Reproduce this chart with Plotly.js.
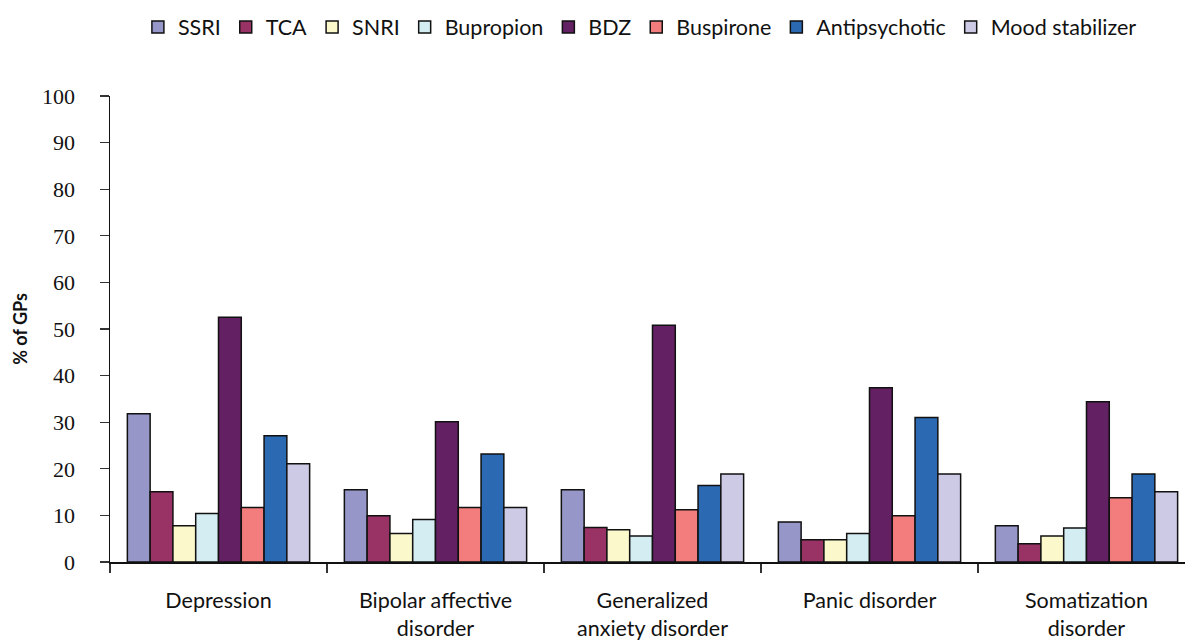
<!DOCTYPE html>
<html>
<head>
<meta charset="utf-8">
<script src="https://cdn.plot.ly/plotly-3.0.1.min.js"></script>
<style>html,body{margin:0;padding:0;background:#fff;}#chart{width:1185px;height:644px;}</style>
</head>
<body>
<div id="chart"></div>
<script>
const categories = ["Depression", "Bipolar affective<br>disorder", "Generalized<br>anxiety disorder", "Panic disorder", "Somatization<br>disorder"];
const seriesNames = ["SSRI", "TCA", "SNRI", "Bupropion", "BDZ", "Buspirone", "Antipsychotic", "Mood stabilizer"];
const SSRI = [31.8, 15.5, 15.5, 8.6, 7.8];
const TCA = [15.1, 9.9, 7.4, 4.8, 3.9];
const SNRI = [7.8, 6.1, 6.9, 4.8, 5.6];
const Bupropion = [10.4, 9.1, 5.6, 6.1, 7.3];
const BDZ = [52.5, 30.1, 50.8, 37.4, 34.4];
const Buspirone = [11.7, 11.7, 11.2, 9.9, 13.8];
const Antipsychotic = [27.1, 23.2, 16.4, 31.0, 18.9];
const MoodStabilizer = [21.1, 11.7, 18.9, 18.9, 15.1];
const yTickVals = [0, 10, 20, 30, 40, 50, 60, 70, 80, 90, 100];

const values = [SSRI, TCA, SNRI, Bupropion, BDZ, Buspirone, Antipsychotic, MoodStabilizer];
const colors = ["#9696c8", "#993366", "#fbf8cb", "#d3edf3", "#632063", "#f37d7d", "#2b69b3", "#cdcae6"];

const traces = seriesNames.map((n, i) => ({
  type: "bar",
  name: n,
  x: categories,
  y: values[i],
  marker: {color: colors[i], line: {color: "#111", width: 1.5}},
  hoverinfo: "name+y"
}));

const layout = {
  width: 1185, height: 644,
  margin: {l: 110, r: 0, t: 96, b: 82},
  paper_bgcolor: "#fff", plot_bgcolor: "#fff",
  barmode: "group",
  bargap: 0.16,
  bargroupgap: 0,
  font: {family: "Lato, 'Open Sans', sans-serif", size: 21, color: "#111"},
  showlegend: true,
  legend: {
    orientation: "h",
    xref: "container", yref: "container",
    x: 0.54, xanchor: "center",
    y: 0.99, yanchor: "top",
    font: {family: "Lato, sans-serif", size: 21.5, color: "#111"},
    itemwidth: 30,
    traceorder: "normal"
  },
  xaxis: {
    type: "category",
    range: [-0.5, 4.454],
    tickson: "boundaries",
    ticks: "outside", ticklen: 9, tickwidth: 1.2, tickcolor: "#333",
    showline: true, linecolor: "#111", linewidth: 1.5,
    showgrid: false, zeroline: false,
    ticklabelstandoff: 19,
    tickfont: {family: "Lato, sans-serif", size: 21.5, color: "#111"},
    fixedrange: true
  },
  yaxis: {
    range: [0, 100],
    tickvals: yTickVals,
    ticktext: yTickVals.map(String),
    ticks: "outside", ticklen: 9, tickwidth: 1.2, tickcolor: "#333",
    showline: true, linecolor: "#111", linewidth: 1.5,
    showgrid: false, zeroline: false,
    ticklabelstandoff: 20,
    tickfont: {family: "'Liberation Serif', serif", size: 22, color: "#111"},
    title: {text: "<b>% of GPs</b>", font: {family: "Lato, sans-serif", size: 18, color: "#111"}, standoff: 10},
    fixedrange: true
  }
};

Plotly.newPlot("chart", traces, layout, {displayModeBar: false, staticPlot: true});
</script>
</body>
</html>
